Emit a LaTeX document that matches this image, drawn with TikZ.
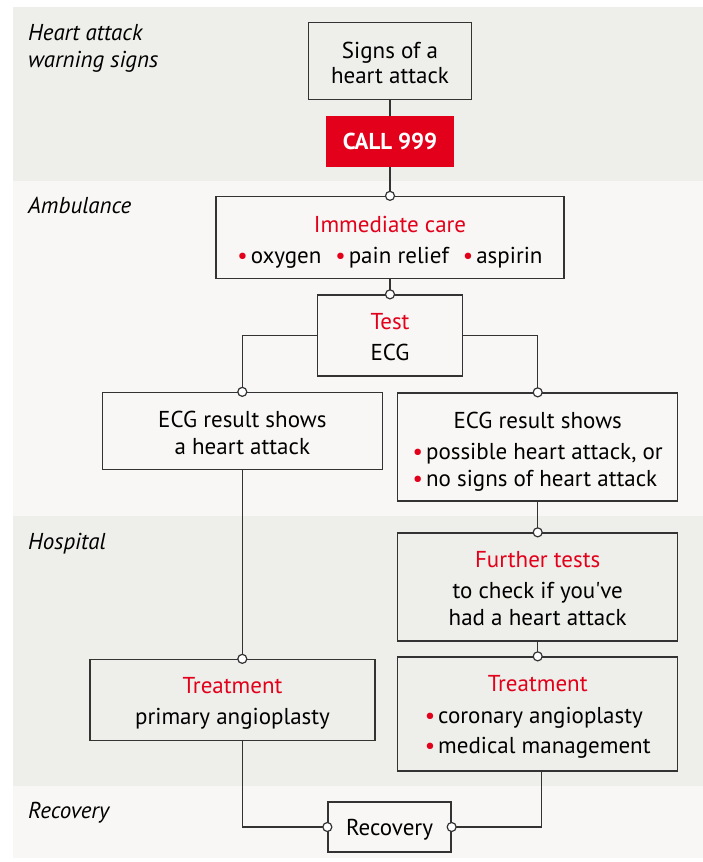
\documentclass[tikz,border=0pt]{standalone}
\usepackage{fontspec}
\setmainfont{PT Sans}
\usetikzlibrary{calc}
\definecolor{bandA}{HTML}{EEEEEA}
\definecolor{bandB}{HTML}{F8F7F5}
\definecolor{nhsred}{HTML}{E2001A}
\definecolor{ink}{HTML}{333333}
\newcommand{\rb}{{\color{nhsred}\textbullet}\kern3pt}
\newcommand{\rt}[1]{{\color{nhsred}#1}}
\tikzset{
  box/.style={draw=ink, line width=1.3pt, inner sep=0pt},
  txt/.style={align=center, inner sep=0pt, font=\fontsize{23}{27}\selectfont, text=black},
  conn/.style={draw=ink, line width=1.3pt},
  dot/.style={circle, draw=ink, fill=white, line width=1.2pt, minimum size=9pt, inner sep=0pt},
  lab/.style={font=\itshape\fontsize{23}{27}\selectfont, anchor=base west, align=left, inner sep=0pt, text=black},
  redbox/.style={fill=nhsred, inner sep=0pt, text=white, font=\bfseries\fontsize{23}{27}\selectfont}
}
\begin{document}
\begin{tikzpicture}[x=1pt,y=-1pt]
\useasboundingbox (0,0) rectangle (703,862);
% bands
\fill[bandA] (13,7) rectangle (703,181);
\fill[bandB] (13,181) rectangle (703,516);
\fill[bandA] (13,516) rectangle (703,786);
\fill[bandB] (13,786) rectangle (703,858);
% band labels
\node[lab] (l1) at (28,67) {Heart attack\\warning signs};
\node[lab] (l2) at (28,213) {Ambulance};
\node[lab] (l3) at (28,549) {Hospital};
\node[lab] (l4) at (28,818) {Recovery};
% boxes
\node[box, minimum width=163pt, minimum height=77pt] (signs) at (390,61) {};
\node[redbox, minimum width=128pt, minimum height=51pt] (call) at (390,141.5) {CALL 999};
\node[box, minimum width=348pt, minimum height=82pt] (imm) at (390,237.5) {};
\node[box, minimum width=145pt, minimum height=81pt] (test) at (390,335.5) {};
\node[box, minimum width=280pt, minimum height=77pt] (ecgL) at (242.3,431) {};
\node[box, minimum width=280pt, minimum height=108pt] (ecgR) at (537.7,447) {};
\node[box, minimum width=280pt, minimum height=108pt] (further) at (537.7,587) {};
\node[box, minimum width=280pt, minimum height=114pt] (treatR) at (537.7,714) {};
\node[box, minimum width=285pt, minimum height=81pt] (treatL) at (232.5,700) {};
\node[box, minimum width=123pt, minimum height=50pt] (recov) at (389.5,827) {};
% box texts
\node[txt] (signsT) at ([yshift=-2pt]signs.center) {Signs of a\\[-2pt]heart attack};
\node[txt] (immT) at ([yshift=-5pt]imm.center)
  {\rt{Immediate care}\\[4pt]\rb oxygen\hspace{14pt}\rb pain relief\hspace{14pt}\rb aspirin};
\node[txt] (testT) at ([yshift=-2pt]test.center) {\rt{Test}\\[4pt]ECG};
\node[txt] (ecgLT) at ([yshift=-2pt]ecgL.center) {ECG result shows\\a heart attack};
\node[txt] (ecgRT) at ([yshift=-6pt]ecgR.center)
  {ECG result shows\\[4pt]\begin{tabular}[t]{@{}l@{}}\rb possible heart attack, or\\\rb no signs of heart attack\end{tabular}};
\node[txt] (furtherT) at ([yshift=-1.5pt]further.center)
  {\rt{Further tests}\\[4pt]to check if you\textquotesingle ve\\had a heart attack};
\node[txt] (treatRT) at ([yshift=-4.5pt]treatR.center)
  {\rt{Treatment}\\[5pt]\begin{tabular}[t]{@{}l@{}}\rb coronary angioplasty\\[3pt]\rb medical management\end{tabular}};
\node[txt] (treatLT) at ([yshift=-3pt]treatL.center) {\rt{Treatment}\\[4pt]primary angioplasty};
\node[txt] (recovT) at ([yshift=-3pt]recov.center) {Recovery};
% connectors
\coordinate (tlTop) at (ecgL.south |- treatL.north);
\coordinate (tlBot) at (ecgL.south |- treatL.south);
\coordinate (trBot) at ([xshift=4pt]treatR.south);
\draw[conn] (signs.south) -- (call.north);
\draw[conn] (call.south) -- (imm.north);
\draw[conn] (imm.south) -- (test.north);
\draw[conn] (test.west) -| (ecgL.north);
\draw[conn] (test.east) -| (ecgR.north);
\draw[conn] (ecgL.south) -- (tlTop);
\draw[conn] (ecgR.south) -- (further.north);
\draw[conn] (further.south) -- (treatR.north);
\draw[conn] (tlBot) |- (recov.west);
\draw[conn] (trBot) |- (recov.east);
% junction dots
\node[dot] (d1) at (imm.north) {};
\node[dot] (d2) at (test.north) {};
\node[dot] (d3) at (ecgL.north) {};
\node[dot] (d4) at (ecgR.north) {};
\node[dot] (d5) at (tlTop) {};
\node[dot] (d6) at (further.north) {};
\node[dot] (d7) at (treatR.north) {};
\node[dot] (d8) at (recov.west) {};
\node[dot] (d9) at (recov.east) {};
\end{tikzpicture}
\end{document}
